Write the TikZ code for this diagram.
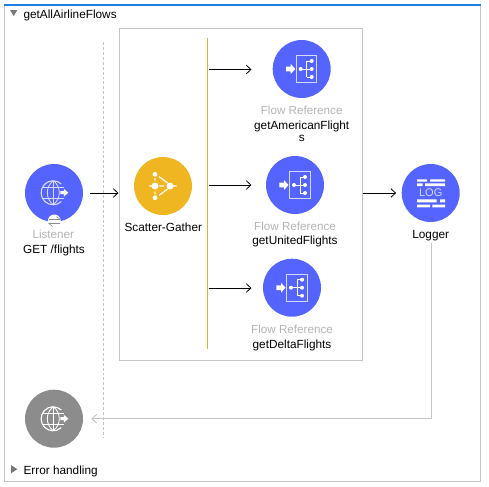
\documentclass[tikz,border=0pt]{standalone}
\usepackage{fontspec}
\setmainfont{Liberation Sans}
\usetikzlibrary{arrows.meta}
\definecolor{muleblue}{HTML}{5664FF}
\definecolor{muleyellow}{HTML}{F0B622}
\definecolor{mulegrey}{HTML}{8C8C8C}
\definecolor{framegrey}{HTML}{C4C4C4}
\definecolor{topblue}{HTML}{1B80E0}
\definecolor{lbl}{HTML}{B4B4B4}
\definecolor{lanecol}{HTML}{E4AE3C}
\tikzset{
  x=0.75pt,y=-0.75pt,
  disc/.style={circle,minimum size=43.5pt,inner sep=0pt,draw=none},
  bluedisc/.style={disc,fill=muleblue},
  kindlbl/.style={font=\fontsize{8.75pt}{10pt}\selectfont,text=lbl,inner sep=0pt,anchor=base},
  namelbl/.style={font=\fontsize{8.85pt}{10pt}\selectfont,text=black,inner sep=0pt,anchor=base},
  flowline/.style={draw=black,line width=0.6pt,-{Straight Barb[length=3.5pt,width=6.5pt,line width=0.6pt]}},
  backline/.style={draw=framegrey,line width=0.7pt,-{Straight Barb[length=3.5pt,width=6.5pt,line width=0.7pt]}},
  ico/.style={draw=white!75!muleblue,line width=0.55pt},
  pure/.style={draw=white,line width=0.7pt},
}
\newcommand{\globeicon}[3]{% x y colour
  \begin{scope}[shift={(#1,#2)}]
    \draw[draw=#3,line width=0.85pt] (8,-8.7) arc[start angle=-47,delta angle=-266,radius=12];
    \draw[draw=#3,line width=0.65pt] (0,-12) -- (0,12);
    \draw[draw=#3,line width=0.65pt] (0,-12) .. controls (-8,-6) and (-8,6) .. (0,12);
    \draw[draw=#3,line width=0.65pt] (0,-12) .. controls (8,-6) and (8,6) .. (0,12);
    \draw[draw=#3,line width=0.65pt] (-10.5,-5.5) -- (10.5,-5.5) (-10.5,5.5) -- (10.5,5.5);
    \fill[white] (7,-1.5) -- (10.5,-1.5) -- (10.5,-4) -- (15,0) -- (10.5,4) -- (10.5,1.5) -- (7,1.5) -- cycle;
  \end{scope}}
\newcommand{\reficon}[2]{% x y
  \begin{scope}[shift={(#1,#2)}]
    \fill[white] (-15.7,-2.3) -- (-11,-2.3) -- (-11,-5) -- (-6.5,0) -- (-11,5) -- (-11,2.3) -- (-15.7,2.3) -- cycle;
    \draw[ico] (-5.5,-13.7) rectangle (15,13.7);
    \draw[pure] (-1,0) -- (10,0) (5,-8) -- (5,8) (5,-8) -- (10,-8) (5,8) -- (10,8);
    \fill[white] (-1,0) circle[radius=2] (10,-8) circle[radius=2] (10,0) circle[radius=2] (10,8) circle[radius=2];
  \end{scope}}
\begin{document}
\begin{tikzpicture}
\useasboundingbox (0,0) rectangle (489,486);
\fill[white] (0,0) rectangle (489,486);
% outer frame
\draw[framegrey,line width=0.7pt] (4.5,5) -- (4.5,481.5) -- (480.5,481.5) -- (480.5,5);
\draw[topblue,line width=1.5pt] (4,5) -- (481,5);
% titles
\fill[mulegrey!85!black] (10,10) -- (17.3,10) -- (13.7,16) -- cycle;
\node[namelbl,anchor=base west] (title) at (23.3,18.3) {getAllAirlineFlows};
\fill[mulegrey!85!black] (11,465) -- (11,473.3) -- (17.3,469.2) -- cycle;
\node[namelbl,anchor=base west] (err) at (23.3,474.3) {Error handling};
% scatter box, lanes
\node[draw=framegrey,line width=0.7pt,minimum width=182.4pt,minimum height=249.6pt,inner sep=0pt,anchor=north west] (box) at (118.5,27.5) {};
\draw[framegrey,line width=0.6pt,dash pattern=on 2.2pt off 1.5pt] (103.3,42) -- (103.3,438);
\coordinate (laneA) at (207.5,38);
\coordinate (laneB) at (207.5,348.7);
\draw[lanecol,line width=0.7pt] (laneA) -- (laneB);
% discs
\node[bluedisc] (listener) at (54,193) {};
\node[disc,fill=muleyellow] (sg) at (163,186) {};
\node[bluedisc] (am) at (301.7,69) {};
\node[bluedisc] (un) at (295,185) {};
\node[bluedisc] (de) at (292,287.7) {};
\node[bluedisc] (log) at (430.7,193) {};
\node[disc,fill=mulegrey] (resp) at (54,418.7) {};
% listener badge
\node[circle,fill=white,minimum size=9.75pt,inner sep=0pt] (badge) at (54.3,221) {};
\draw[mulegrey,line width=0.45pt] (49,219.5) -- (60,219.5) -- (56.5,216.5);
\draw[mulegrey,line width=0.45pt] (60,223.5) -- (49,223.5) -- (52.5,226.5);
% icons
\globeicon{53.3}{192.7}{white!75!muleblue}
\globeicon{53.3}{418.7}{white}
\reficon{301.7}{69}
\reficon{295}{185}
\reficon{292}{287.7}
% scatter icon
\begin{scope}[shift={(163,186)}]
  \draw[draw=white,line width=0.9pt] (-13.7,0) -- (-8,0) (-3.7,0) -- (1,0) (7,0) -- (13.7,0)
    (-8,-8) -- (-8,-5.5) (-8,8) -- (-8,5.5) (-4,-9.5) -- (4.5,-3) (-4,9.5) -- (4.5,3);
  \fill[white] (-8,-11.7) circle[radius=2.4] (-8,0) circle[radius=3.5] (-8,11.7) circle[radius=2.4] (7,0) circle[radius=3.5];
\end{scope}
% logger icon
\begin{scope}[shift={(430.7,193)}]
  \fill[white] (-13.7,-13.7) rectangle (-3.7,-11.3) (-0.7,-13.7) rectangle (14.3,-11.3)
    (-13.7,-9.7) rectangle (-8,-7) (-5.5,-9.7) rectangle (14.3,-7)
    (-13.7,6.3) rectangle (6,9.3) (9.3,6.3) rectangle (14.3,9.3)
    (-13.7,11.7) rectangle (-0.7,14.3) (1.7,11.7) rectangle (14.3,14.3);
  \node[font=\fontsize{8.3pt}{10pt}\selectfont,text=white!75!muleblue,inner sep=0pt] (logtxt) at (0,0) {LOG};
\end{scope}
% labels
\node[kindlbl] (l1) at (53.3,238) {Listener};
\node[namelbl] (l2) at (54,253) {GET /flights};
\node[namelbl] (l3) at (163.3,231.3) {Scatter-Gather};
\node[kindlbl] (a1) at (301.7,114.3) {Flow Reference};
\node[namelbl] (a2) at (301.7,129.3) {getAmericanFlight};
\node[namelbl] (a3) at (301.7,141.7) {s};
\node[kindlbl] (u1) at (295,230) {Flow Reference};
\node[namelbl] (u2) at (295,244.5) {getUnitedFlights};
\node[kindlbl] (d1) at (292,333.3) {Flow Reference};
\node[namelbl] (d2) at (292,348.3) {getDeltaFlights};
\node[namelbl] (l4) at (430.7,238) {Logger};
% connectors
\coordinate (inA) at (208.5,69.5);
\coordinate (inB) at (208.5,185);
\coordinate (inC) at (208.5,288);
\coordinate (outA) at (362.5,193);
\coordinate (backA) at (431.3,243);
\draw[flowline] ([xshift=5.3pt]listener.east) -- (box.west |- listener.center);
\draw[flowline] (inA) -- ++(43,0) coordinate (endA);
\draw[flowline] (inB) -- ++(43,0) coordinate (endB);
\draw[flowline] (inC) -- ++(43,0) coordinate (endC);
\draw[flowline] (outA) -- ([xshift=-4pt]log.west);
\draw[backline] (backA) -- (backA |- resp.center) -- ([xshift=6pt]resp.east);
\end{tikzpicture}
\end{document}
